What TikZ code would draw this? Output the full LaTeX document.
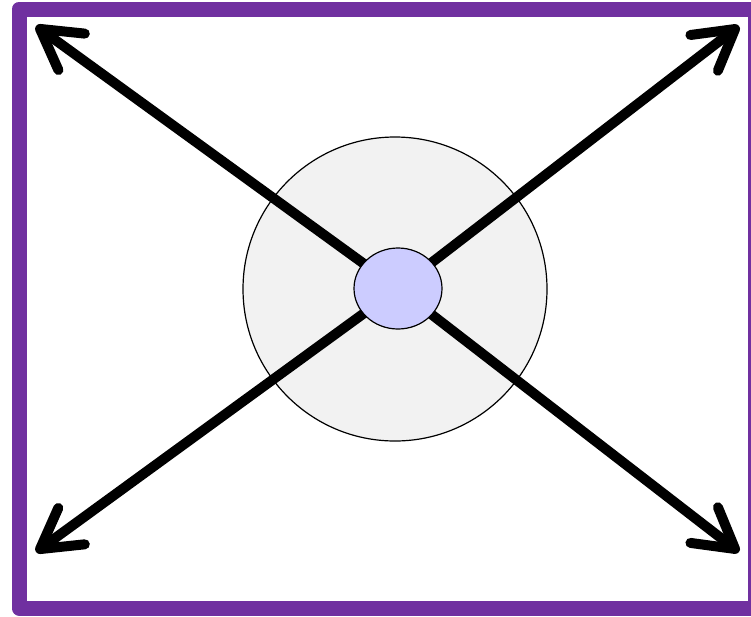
\documentclass[tikz,border=0pt]{standalone}
\usetikzlibrary{arrows.meta,shapes.geometric}
\definecolor{framepurple}{RGB}{112,48,160}
\tikzset{
  spoke/.style={line width=10pt, line cap=round, -{Straight Barb[length=39pt, width=45pt, round]}},
}
\begin{document}
\begin{tikzpicture}[x=1pt, y=-1pt]
\useasboundingbox (0,0) rectangle (751,616);
\draw[framepurple, line width=15pt, line join=round] (19,9) rectangle (755,608);
\node[circle, draw, fill=black!5, minimum size=304pt, inner sep=0pt, line width=1.2pt] (zone) at (395,289) {};
\coordinate (mid) at (398,288.5);
\foreach \n/\cx/\cy in {nw/36/26, ne/739/26, sw/36/552, se/739/552}
  \coordinate (\n) at (\cx,\cy);
\foreach \n in {nw, ne, sw, se}
  \draw[spoke] (mid) -- (\n);
\node[ellipse, draw, fill=blue!20, minimum width=88pt, minimum height=81pt, inner sep=0pt, line width=1.2pt] (hub) at (mid) {};
\end{tikzpicture}
\end{document}
